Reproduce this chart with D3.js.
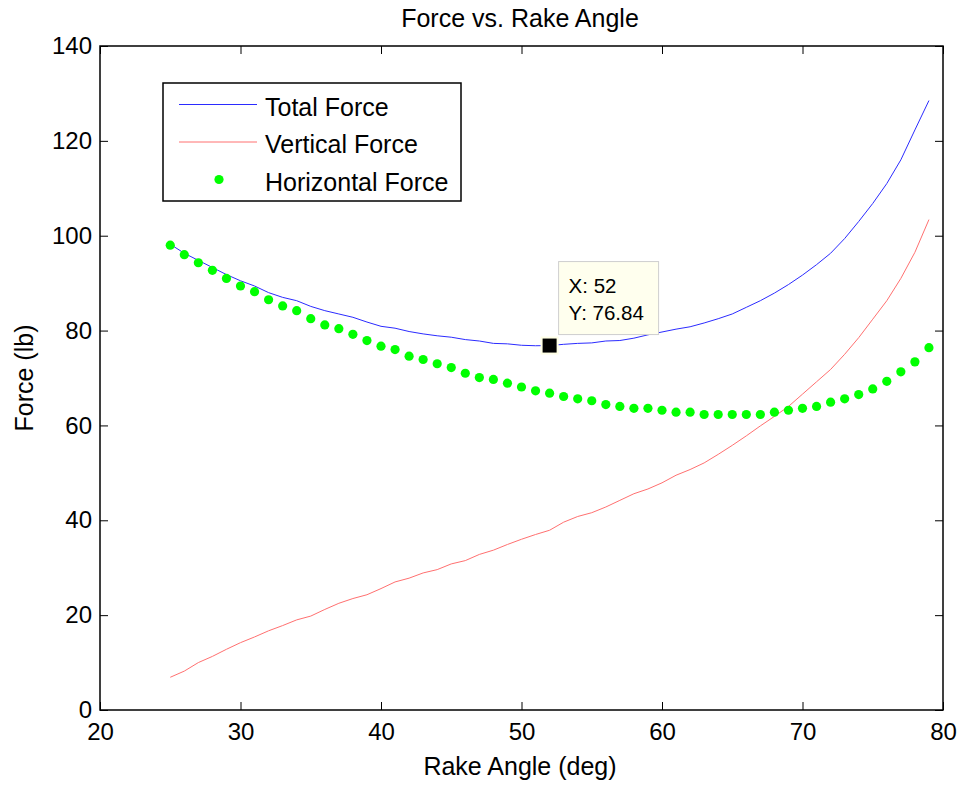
<!DOCTYPE html>
<html>
<head>
<meta charset="utf-8">
<script src="https://cdn.jsdelivr.net/npm/d3@7"></script>
<style>
    body { margin: 0; background: #ffffff; }
    text { font-family: "Liberation Sans", Arial, sans-serif; fill: #000000; }
</style>
</head>
<body>
<div id="chart"></div>
<script>
// Data (rake angle in degrees, forces in lb)
const angles = [25, 26, 27, 28, 29, 30, 31, 32, 33, 34, 35, 36, 37, 38, 39, 40, 41, 42, 43, 44,
    45, 46, 47, 48, 49, 50, 51, 52, 53, 54, 55, 56, 57, 58, 59, 60, 61, 62, 63, 64,
    65, 66, 67, 68, 69, 70, 71, 72, 73, 74, 75, 76, 77, 78, 79];

const totalForce = [98.2, 96.3, 94.8, 93.3, 91.8, 90.5, 89.4, 88.0, 87.0, 86.3, 85.1, 84.2, 83.5, 82.8, 81.8, 80.9, 80.5, 79.8, 79.3, 78.9,
    78.6, 78.1, 77.8, 77.3, 77.2, 76.9, 76.8, 76.84, 77.1, 77.3, 77.4, 77.8, 77.9, 78.4, 79.1, 79.7, 80.3, 80.8, 81.6, 82.5,
    83.5, 84.9, 86.3, 87.9, 89.7, 91.7, 93.9, 96.3, 99.4, 103.0, 106.8, 111.0, 116.0, 122.3, 128.5];

const verticalForce = [6.9, 8.2, 10.0, 11.3, 12.8, 14.2, 15.4, 16.7, 17.8, 19.0, 19.8, 21.2, 22.5, 23.5, 24.3, 25.6, 27.0, 27.8, 28.9, 29.6,
    30.8, 31.5, 32.8, 33.7, 34.9, 36.0, 37.0, 37.9, 39.6, 40.8, 41.6, 42.8, 44.2, 45.6, 46.6, 47.9, 49.5, 50.7, 52.1, 53.9,
    55.8, 57.8, 59.9, 61.9, 64.0, 66.6, 69.2, 71.8, 75.0, 78.5, 82.4, 86.3, 91.0, 96.5, 103.4];

const horizontalForce = [98.0, 96.0, 94.3, 92.7, 91.0, 89.4, 88.2, 86.5, 85.2, 84.2, 82.5, 81.2, 80.4, 79.2, 77.9, 76.7, 76.0, 74.6, 73.9, 73.0,
    72.2, 71.0, 70.1, 69.7, 68.9, 68.1, 67.3, 66.8, 66.1, 65.6, 65.2, 64.4, 64.0, 63.6, 63.6, 63.2, 62.8, 62.8, 62.3, 62.3,
    62.3, 62.3, 62.3, 62.8, 63.2, 63.6, 64.0, 64.9, 65.6, 66.5, 67.7, 69.3, 71.3, 73.4, 76.4];

const xTicks = [20, 30, 40, 50, 60, 70, 80];
const yTicks = [0, 20, 40, 60, 80, 100, 120, 140];

// Data tip shown on the total force curve
const tipPoint = { x: 52, y: 76.84 };

const width = 961;
const height = 785;
const margin = { top: 46, right: 18, bottom: 75, left: 100 };

const svg = d3.select("#chart")
    .append("svg")
    .attr("width", width)
    .attr("height", height);

// Scales
const xScale = d3.scaleLinear()
    .domain([20, 80])
    .range([margin.left, width - margin.right]);

const yScale = d3.scaleLinear()
    .domain([0, 140])
    .range([height - margin.bottom, margin.top]);

const x0 = xScale.range()[0], x1 = xScale.range()[1];
const y0 = yScale.range()[0], y1 = yScale.range()[1];

// Axes (ticks pointing inward, box on)
const bottomAxis = svg.append("g")
    .attr("transform", `translate(0, ${y0})`)
    .call(d3.axisBottom(xScale).tickValues(xTicks).tickSize(-8).tickPadding(13));

const leftAxis = svg.append("g")
    .attr("transform", `translate(${x0}, 0)`)
    .call(d3.axisLeft(yScale).tickValues(yTicks).tickSize(-8).tickPadding(8));

const topAxis = svg.append("g")
    .attr("transform", `translate(0, ${y1})`)
    .call(d3.axisTop(xScale).tickValues(xTicks).tickSize(-8).tickFormat(""));

const rightAxis = svg.append("g")
    .attr("transform", `translate(${x1}, 0)`)
    .call(d3.axisRight(yScale).tickValues(yTicks).tickSize(-8).tickFormat(""));

[bottomAxis, leftAxis, topAxis, rightAxis].forEach(a => {
    a.select(".domain").remove();
    a.selectAll("line").attr("stroke", "#000000").attr("stroke-width", 1);
    a.selectAll("text")
        .style("font-size", "24px")
        .style("font-family", "'Liberation Sans', Arial, sans-serif")
        .attr("fill", "#000000");
});

// Box
svg.append("rect")
    .attr("x", x0)
    .attr("y", y1)
    .attr("width", x1 - x0)
    .attr("height", y0 - y1)
    .attr("fill", "none")
    .attr("stroke", "#000000")
    .attr("stroke-width", 1.5);

// Lines
const data = angles.map((a, i) => ({
    angle: a,
    total: totalForce[i],
    vertical: verticalForce[i],
    horizontal: horizontalForce[i]
}));

const totalLine = d3.line()
    .x(d => xScale(d.angle))
    .y(d => yScale(d.total));

const verticalLine = d3.line()
    .x(d => xScale(d.angle))
    .y(d => yScale(d.vertical));

svg.append("path")
    .datum(data)
    .attr("d", totalLine)
    .attr("fill", "none")
    .attr("stroke", "#2b2bff")
    .attr("stroke-width", 1);

svg.append("path")
    .datum(data)
    .attr("d", verticalLine)
    .attr("fill", "none")
    .attr("stroke", "#ff7070")
    .attr("stroke-width", 1);

svg.selectAll(".dot")
    .data(data)
    .enter()
    .append("circle")
    .attr("class", "dot")
    .attr("cx", d => xScale(d.angle))
    .attr("cy", d => yScale(d.horizontal))
    .attr("r", 4.6)
    .attr("fill", "#00ff00");

// Data tip
const tx = xScale(tipPoint.x);
const ty = yScale(tipPoint.y);

svg.append("rect")
    .attr("x", tx - 9)
    .attr("y", ty - 9)
    .attr("width", 18)
    .attr("height", 18)
    .attr("fill", "#ffffe6");

svg.append("rect")
    .attr("x", tx - 7)
    .attr("y", ty - 7)
    .attr("width", 14)
    .attr("height", 14)
    .attr("fill", "#000000");

const tip = svg.append("g")
    .attr("transform", `translate(${tx + 9}, ${ty - 84})`);

tip.append("rect")
    .attr("x", 0)
    .attr("y", 0)
    .attr("width", 100)
    .attr("height", 73)
    .attr("fill", "#ffffee")
    .attr("stroke", "#cfcfcf")
    .attr("stroke-width", 1);

tip.append("text")
    .attr("x", 10)
    .attr("y", 31)
    .style("font-size", "20.5px")
    .text(`X: ${tipPoint.x}`);

tip.append("text")
    .attr("x", 10)
    .attr("y", 58)
    .style("font-size", "20.5px")
    .text(`Y: ${tipPoint.y}`);

// Title and labels
svg.append("text")
    .attr("x", 520)
    .attr("y", 27)
    .attr("text-anchor", "middle")
    .style("font-size", "25px")
    .text("Force vs. Rake Angle");

svg.append("text")
    .attr("x", 520)
    .attr("y", 775)
    .attr("text-anchor", "middle")
    .style("font-size", "25px")
    .text("Rake Angle (deg)");

svg.append("text")
    .attr("transform", `translate(33, ${(y0 + y1) / 2}) rotate(-90)`)
    .attr("text-anchor", "middle")
    .style("font-size", "25px")
    .text("Force (lb)");

// Legend
const legend = svg.append("g")
    .attr("transform", "translate(163, 83)");

legend.append("rect")
    .attr("x", 0)
    .attr("y", 0)
    .attr("width", 298)
    .attr("height", 118)
    .attr("fill", "#ffffff")
    .attr("stroke", "#000000")
    .attr("stroke-width", 1.5);

const legendItems = [
    { text: "Total Force", type: "line", color: "#2b2bff" },
    { text: "Vertical Force", type: "line", color: "#ff7070" },
    { text: "Horizontal Force", type: "dot", color: "#00ff00" }
];

legendItems.forEach((d, i) => {
    const cy = 21.5 + i * 37.5;
    if (d.type === "line") {
        legend.append("line")
            .attr("x1", 16)
            .attr("x2", 94)
            .attr("y1", cy)
            .attr("y2", cy)
            .attr("stroke", d.color)
            .attr("stroke-width", 1);
    } else {
        legend.append("circle")
            .attr("cx", 56)
            .attr("cy", cy)
            .attr("r", 4.6)
            .attr("fill", d.color);
    }
    legend.append("text")
        .attr("x", 102)
        .attr("y", cy + 11)
        .style("font-size", "25px")
        .text(d.text);
});
</script>
</body>
</html>
